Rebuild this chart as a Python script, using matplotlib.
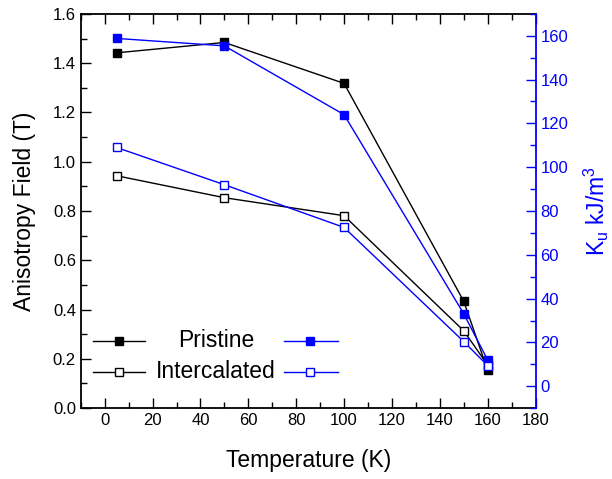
import matplotlib
matplotlib.use('Agg')
import matplotlib.pyplot as plt
from matplotlib.ticker import MultipleLocator

plt.rcParams['font.family'] = ['Liberation Sans', 'DejaVu Sans']
plt.rcParams['mathtext.fontset'] = 'custom'
plt.rcParams['mathtext.rm'] = 'Liberation Sans'

# Données
temperature = [5, 50, 100, 150, 160]
champ_pristine = [1.442, 1.484, 1.318, 0.434, 0.154]        # T, axe gauche
champ_intercale = [0.943, 0.854, 0.781, 0.314, 0.175]       # T, axe gauche
ku_pristine = [158.8, 155.4, 124.0, 33.1, 12.0]             # kJ/m3, axe droit
ku_intercale = [109.0, 92.0, 72.5, 20.4, 9.4]               # kJ/m3, axe droit

noms = ['Pristine', 'Intercalated']

fig = plt.figure(figsize=(6.12, 4.79), dpi=100)
ax = fig.add_axes([0.132, 0.148, 0.743, 0.823])
ax2 = ax.twinx()

lw = 1.0
ms = 5.5

ax.plot(temperature, champ_pristine, color='black', lw=lw, marker='s', ms=ms,
        mfc='black', mec='black', zorder=3)
ax.plot(temperature, champ_intercale, color='black', lw=lw, marker='s', ms=ms,
        mfc='white', mec='black', mew=1.0, zorder=3)
ax2.plot(temperature, ku_pristine, color='blue', lw=lw, marker='s', ms=ms,
         mfc='blue', mec='blue', zorder=3)
ax2.plot(temperature, ku_intercale, color='blue', lw=lw, marker='s', ms=ms,
         mfc='white', mec='blue', mew=1.0, zorder=3)

# Axes
ax.set_xlim(-10, 180)
ax.set_ylim(0, 1.6)
ax2.set_ylim(-10, 170)
ax.xaxis.set_major_locator(MultipleLocator(20))
ax.xaxis.set_minor_locator(MultipleLocator(10))
ax.yaxis.set_major_locator(MultipleLocator(0.2))
ax.yaxis.set_minor_locator(MultipleLocator(0.1))
ax2.yaxis.set_major_locator(MultipleLocator(20))
ax2.yaxis.set_minor_locator(MultipleLocator(10))
ax.yaxis.set_major_formatter(plt.FormatStrFormatter('%.1f'))

ax.tick_params(which='both', direction='in', top=True, right=False, labelsize=12,
               width=1.0)
ax.tick_params(which='major', length=7)
ax.tick_params(which='minor', length=4)
ax2.tick_params(which='both', direction='in', colors='blue', labelsize=12, width=1.0)
ax2.tick_params(which='major', length=7)
ax2.tick_params(which='minor', length=4)

for s in ['left', 'bottom', 'top']:
    ax.spines[s].set_linewidth(1.3)
ax.spines['right'].set_visible(False)
ax2.spines['right'].set_color('blue')
ax2.spines['right'].set_linewidth(1.3)
for s in ['left', 'bottom', 'top']:
    ax2.spines[s].set_visible(False)

ax.set_xlabel('Temperature (K)', fontsize=16.5, labelpad=15)
ax.set_ylabel('Anisotropy Field (T)', fontsize=16.5, labelpad=12)
ax2.set_ylabel(r'$\mathregular{K_u}$ kJ/m$^\mathregular{3}$', fontsize=16.5,
               color='blue', labelpad=10)

# Légende dessinée à la main (texte entre les deux symboles)
rangs_y = [0.171, 0.092]
remplis = [True, False]
for y, nom, plein in zip(rangs_y, noms, remplis):
    for x0, x1, xm, c in [(0.026, 0.141, 0.084, 'black'), (0.447, 0.565, 0.504, 'blue')]:
        ax.plot([x0, x1], [y, y], color=c, lw=lw, transform=ax.transAxes, clip_on=False)
        ax.plot([xm], [y], marker='s', ms=ms, color=c, mfc=c if plein else 'white',
                mec=c, mew=1.0, transform=ax.transAxes, clip_on=False)
    ax.text(0.297, y, nom, transform=ax.transAxes, ha='center', va='center',
            fontsize=16.5)

fig.savefig('out.png', dpi=100)
